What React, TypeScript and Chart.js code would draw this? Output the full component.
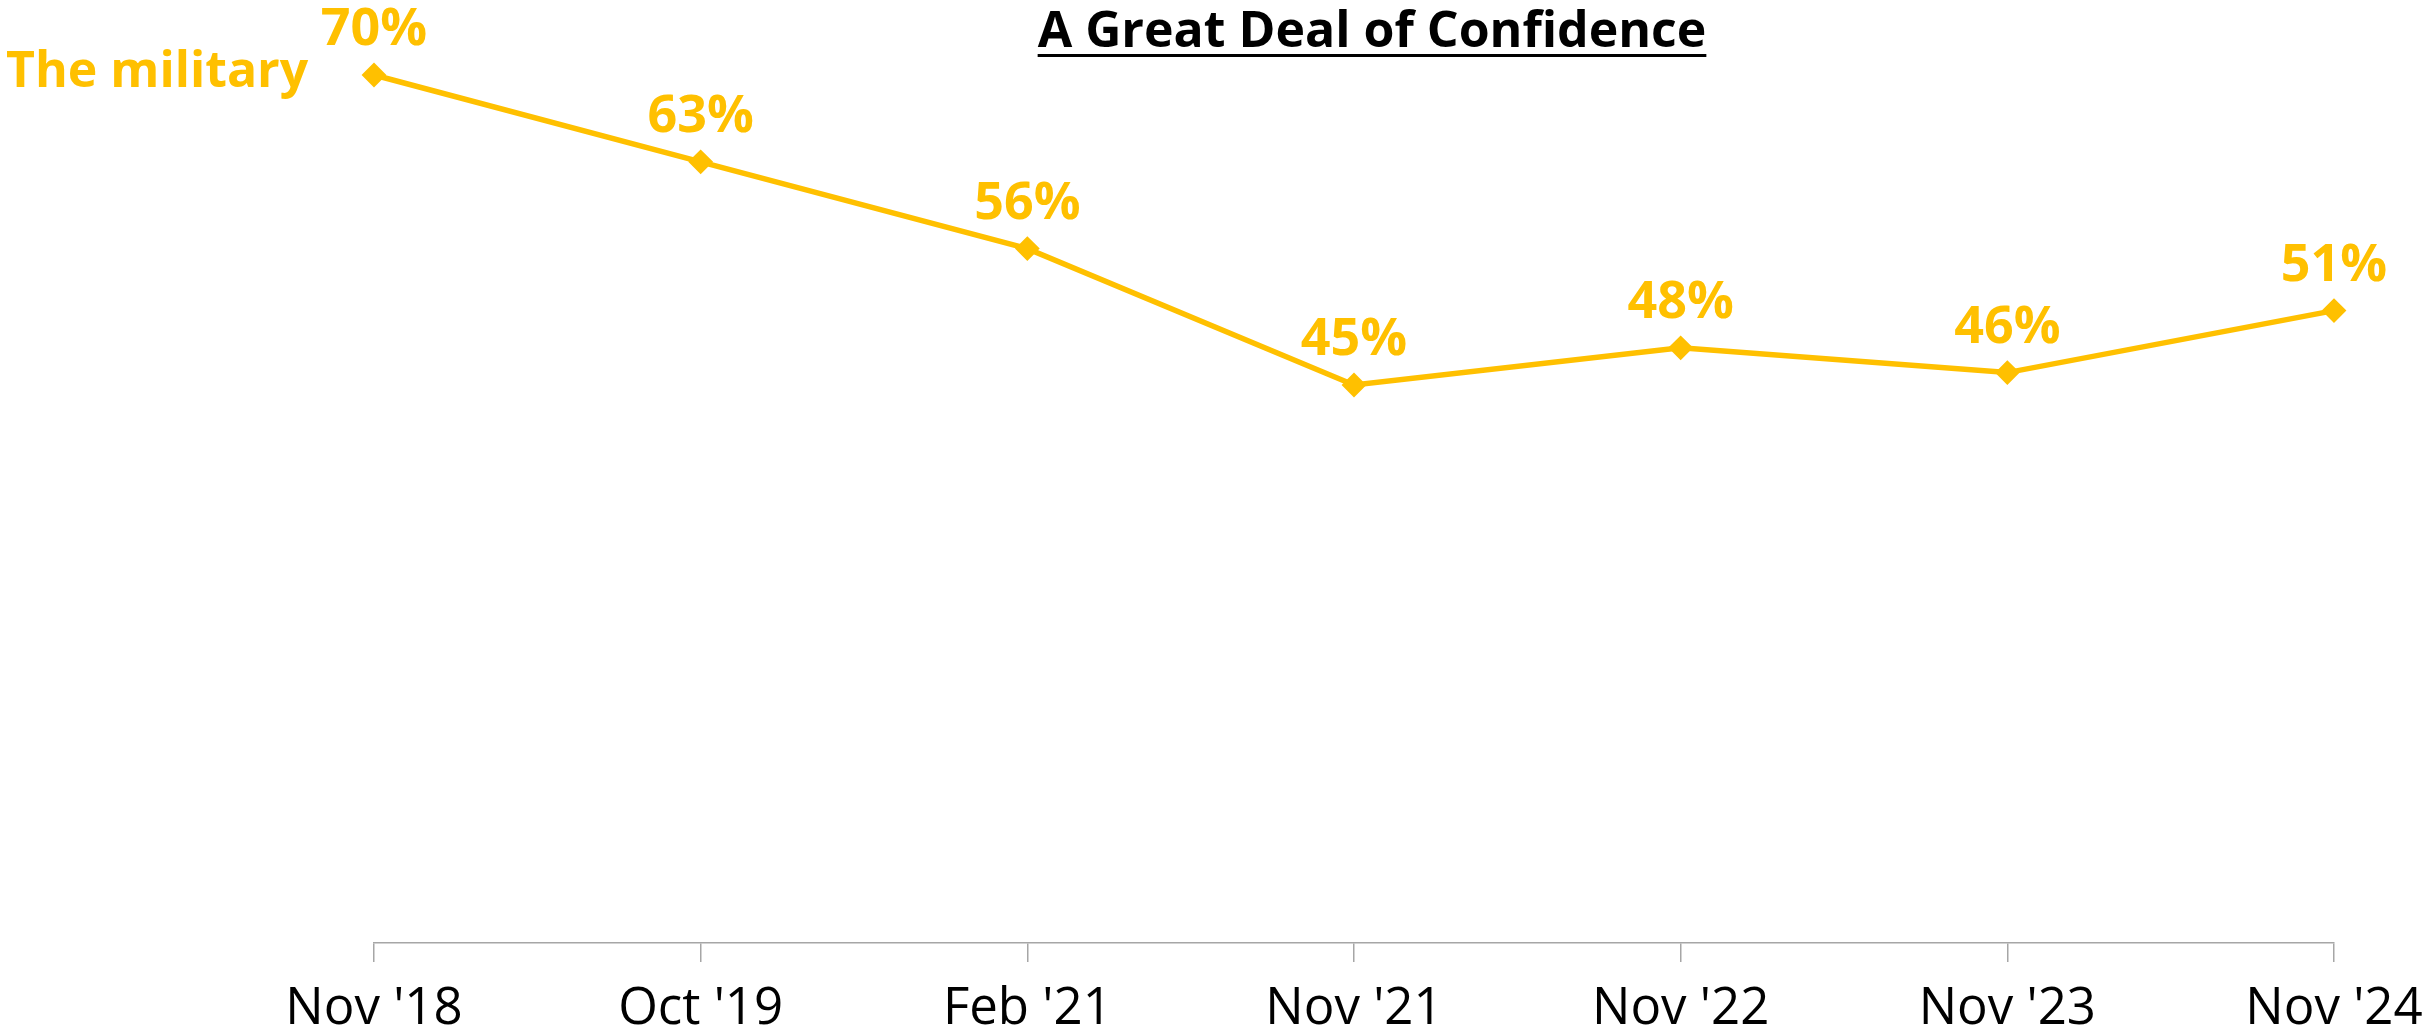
import React, { useEffect, useRef } from "react";
import { Chart, registerables } from "chart.js";

Chart.register(...registerables);

const categories = ["Nov '18", "Oct '19", "Feb '21", "Nov '21", "Nov '22", "Nov '23", "Nov '24"];
const militaryValues = [70, 63, 56, 45, 48, 46, 51];
const seriesName = "The military";
const chartTitle = "A Great Deal of Confidence";

const YELLOW = "#FFC000";
const FONT = "'Open Sans', 'Noto Sans', sans-serif";

export default function App() {
  const ref = useRef<HTMLCanvasElement | null>(null);

  useEffect(() => {
    if (!ref.current) return;
    const overlay = {
      id: "overlay",
      afterDatasetsDraw(chart: any) {
        const ctx = chart.ctx;
        const meta = chart.getDatasetMeta(0);
        ctx.save();
        ctx.fillStyle = YELLOW;
        ctx.font = `bold 52px ${FONT}`;
        ctx.textAlign = "center";
        ctx.textBaseline = "alphabetic";
        meta.data.forEach((pt: any, i: number) => {
          ctx.fillText(`${militaryValues[i]}%`, pt.x, pt.y - 30);
        });
        ctx.textAlign = "left";
        ctx.font = `bold 50px ${FONT}`;
        ctx.fillText(seriesName, 6, 87);
        ctx.fillStyle = "#000000";
        ctx.font = `bold 50px ${FONT}`;
        ctx.textAlign = "center";
        const tx = 1372;
        ctx.fillText(chartTitle, tx, 47);
        const w = ctx.measureText(chartTitle).width;
        ctx.fillRect(tx - w / 2, 54, w, 3);
        ctx.restore();
      },
    };
    const chart = new Chart(ref.current, {
      type: "line",
      data: {
        labels: categories,
        datasets: [
          {
            label: seriesName,
            data: militaryValues,
            borderColor: YELLOW,
            backgroundColor: YELLOW,
            borderWidth: 5.5,
            pointStyle: "rectRot",
            pointRadius: 11,
            pointBorderWidth: 2,
            pointBorderColor: YELLOW,
            pointBackgroundColor: YELLOW,
            tension: 0,
          },
        ],
      },
      options: {
        responsive: false,
        animation: false,
        layout: { padding: { left: 374, right: 91, top: 10, bottom: 0 } },
        plugins: {
          legend: { display: false },
          title: { display: false },
          tooltip: { enabled: false },
        },
        scales: {
          x: {
            offset: false,
            afterFit(scale: any) {
              scale.paddingLeft = 0;
              scale.paddingRight = 0;
              scale.height = 85;
            },
            grid: {
              display: true,
              drawOnChartArea: false,
              drawTicks: true,
              tickLength: 19,
              color: "#A6A6A6",
              lineWidth: 1.5,
            },
            border: { display: true, color: "#A6A6A6", width: 1.5 },
            ticks: {
              color: "#000000",
              font: { family: FONT, size: 51, lineHeight: 1.0 },
              padding: 22,
              maxRotation: 0,
              autoSkip: false,
            },
          },
          y: {
            display: false,
            min: 0,
            max: 75,
          },
        },
      },
      plugins: [overlay],
    });
    return () => chart.destroy();
  }, []);

  return (
    <div style={{ position: "fixed", left: 0, top: 0, width: 2425, height: 1028, background: "#fff" }}>
      <canvas ref={ref} width={2425} height={1028} style={{ display: "block" }} />
    </div>
  );
}
